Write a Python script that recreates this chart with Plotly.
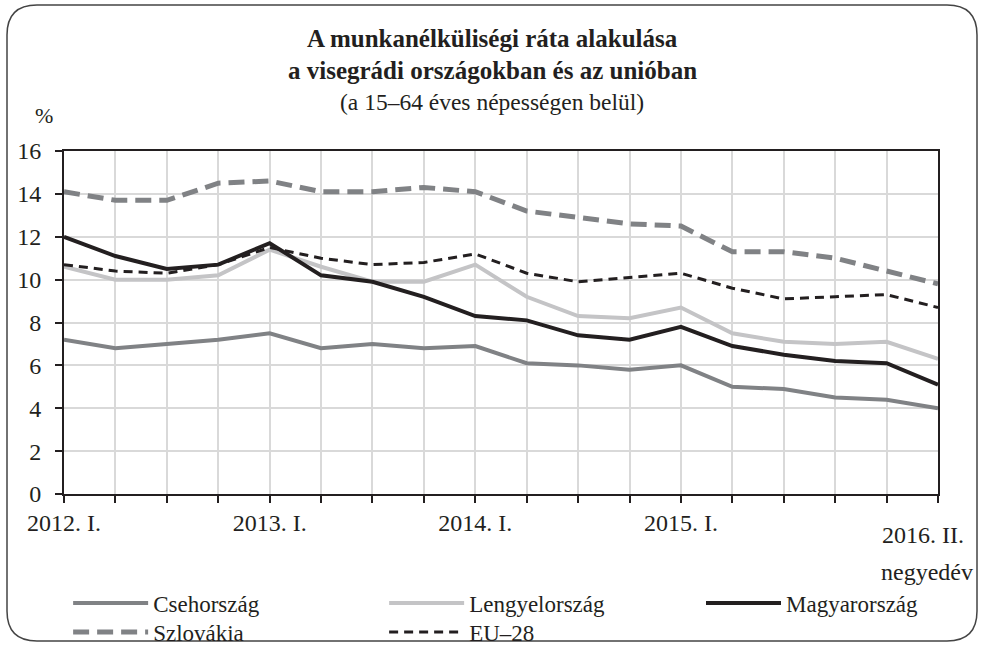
import plotly.graph_objects as go

quarters = ["2012. I.", "2012. II.", "2012. III.", "2012. IV.",
            "2013. I.", "2013. II.", "2013. III.", "2013. IV.",
            "2014. I.", "2014. II.", "2014. III.", "2014. IV.",
            "2015. I.", "2015. II.", "2015. III.", "2015. IV.",
            "2016. I.", "2016. II."]
tick_labels = ["2012. I.", "", "", "", "2013. I.", "", "", "", "2014. I.", "", "", "",
               "2015. I.", "", "", "", "", ""]
last_label = "2016. II."
unit_label = "negyedév"

cseh = [7.2, 6.8, 7.0, 7.2, 7.5, 6.8, 7.0, 6.8, 6.9, 6.1, 6.0, 5.8, 6.0, 5.0, 4.9, 4.5, 4.4, 4.0]
lengyel = [10.6, 10.0, 10.0, 10.2, 11.4, 10.6, 9.9, 9.9, 10.7, 9.2, 8.3, 8.2, 8.7, 7.5, 7.1, 7.0, 7.1, 6.3]
magyar = [12.0, 11.1, 10.5, 10.7, 11.7, 10.2, 9.9, 9.2, 8.3, 8.1, 7.4, 7.2, 7.8, 6.9, 6.5, 6.2, 6.1, 5.1]
szlovak = [14.1, 13.7, 13.7, 14.5, 14.6, 14.1, 14.1, 14.3, 14.1, 13.2, 12.9, 12.6, 12.5, 11.3, 11.3, 11.0, 10.4, 9.8]
eu28 = [10.7, 10.4, 10.3, 10.7, 11.5, 11.0, 10.7, 10.8, 11.2, 10.3, 9.9, 10.1, 10.3, 9.6, 9.1, 9.2, 9.3, 8.7]

y_ticks = [0, 2, 4, 6, 8, 10, 12, 14, 16]

FONT = "Liberation Serif"
TXT = "#231f20"
x = list(range(len(quarters)))

fig = go.Figure()
series = [
    ("Csehország", cseh, "#808285", 4, "solid", "legend"),
    ("Lengyelország", lengyel, "#c4c4c6", 4, "solid", "legend"),
    ("Magyarország", magyar, "#231f20", 4, "solid", "legend3"),
    ("Szlovákia", szlovak, "#808285", 5, "16px,8px", "legend2"),
    ("EU–28", eu28, "#231f20", 3, "9px,6px", "legend2"),
]
order = [0, 1, 3, 4, 2]
for i in order:
    name, vals, col, w, dash, lg = series[i]
    fig.add_trace(go.Scatter(
        x=x, y=vals, mode="lines", name=name,
        line=dict(color=col, width=w, dash=dash),
        legend=lg, legendrank=i + 1, customdata=quarters,
        hovertemplate="%{customdata}: %{y}<extra>" + name + "</extra>",
    ))

L, R, T, B = 64, 46, 151, 152
W, H = 984, 646
pw, ph = W - L - R, H - T - B


def px_x(p):
    return (p - L) / pw


def px_y(p):
    return (H - B - p) / ph


leg_common = dict(
    orientation="h", xanchor="left", yanchor="middle",
    entrywidth=221, entrywidthmode="pixels", indentation=5,
    font=dict(family=FONT, size=23, color=TXT),
    traceorder="normal", bgcolor="rgba(0,0,0,0)", itemwidth=75,
)

fig.update_layout(
    width=W, height=H,
    margin=dict(l=L, r=R, t=T, b=B, autoexpand=False),
    paper_bgcolor="white", plot_bgcolor="white",
    font=dict(family=FONT, size=24, color=TXT),
    showlegend=True,
    legend=dict(leg_common, x=-0.001, y=px_y(603)),
    legend2=dict(leg_common, x=-0.001, y=px_y(632)),
    legend3=dict(leg_common, x=px_x(696), y=px_y(603)),
    xaxis=dict(
        range=[0, 17], tickmode="array", tickvals=x, ticktext=tick_labels,
        showgrid=True, gridcolor="#d9d9d9", gridwidth=2,
        showline=True, linecolor=TXT, linewidth=2, mirror=True,
        ticks="outside", ticklen=7, tickcolor=TXT, tickwidth=1.5,
        ticklabelstandoff=-1, zeroline=False,
        tickfont=dict(family=FONT, size=24, color=TXT),
    ),
    yaxis=dict(
        range=[0, 16], tickmode="array", tickvals=y_ticks,
        showgrid=True, gridcolor="#d9d9d9", gridwidth=2,
        showline=True, linecolor=TXT, linewidth=2, mirror=True,
        ticks="outside", ticklen=7, tickcolor=TXT, tickwidth=1.5,
        ticklabelstandoff=9, zeroline=False,
        tickfont=dict(family=FONT, size=24, color=TXT),
    ),
)

# rounded frame
x0, x1 = px_x(7), px_x(977)
y0, y1 = px_y(641), px_y(5)
rx, ry = 30 / pw, 30 / ph
path = (f"M{x0+rx},{y1} L{x1-rx},{y1} Q{x1},{y1} {x1},{y1-ry} "
        f"L{x1},{y0+ry} Q{x1},{y0} {x1-rx},{y0} L{x0+rx},{y0} "
        f"Q{x0},{y0} {x0},{y0+ry} L{x0},{y1-ry} Q{x0},{y1} {x0+rx},{y1} Z")
fig.add_shape(type="path", path=path, xref="paper", yref="paper",
              line=dict(color="#444444", width=1.5), layer="below")

titles = [
    ("<b>A munkanélküliségi ráta alakulása</b>", 38, 25),
    ("<b>a visegrádi országokban és az unióban</b>", 70, 25),
    ("(a 15–64 éves népességen belül)", 102, 23.5),
]
for txt, py, fs in titles:
    fig.add_annotation(text=txt, x=px_x(492), y=px_y(py), xref="paper", yref="paper",
                       showarrow=False, xanchor="center", yanchor="middle",
                       font=dict(family=FONT, size=fs, color=TXT))

fig.add_annotation(text="%", x=px_x(44), y=px_y(115), xref="paper", yref="paper",
                   showarrow=False, xanchor="center", yanchor="middle",
                   font=dict(family=FONT, size=22, color=TXT))
fig.add_annotation(text=last_label, x=px_x(923), y=px_y(535), xref="paper", yref="paper",
                   showarrow=False, xanchor="center", yanchor="middle",
                   font=dict(family=FONT, size=24, color=TXT))
fig.add_annotation(text=unit_label, x=px_x(927), y=px_y(572), xref="paper", yref="paper",
                   showarrow=False, xanchor="center", yanchor="middle",
                   font=dict(family=FONT, size=24, color=TXT))

fig.write_html("out.html", config={"displayModeBar": False},
               post_script="document.body.style.margin='0px';")
